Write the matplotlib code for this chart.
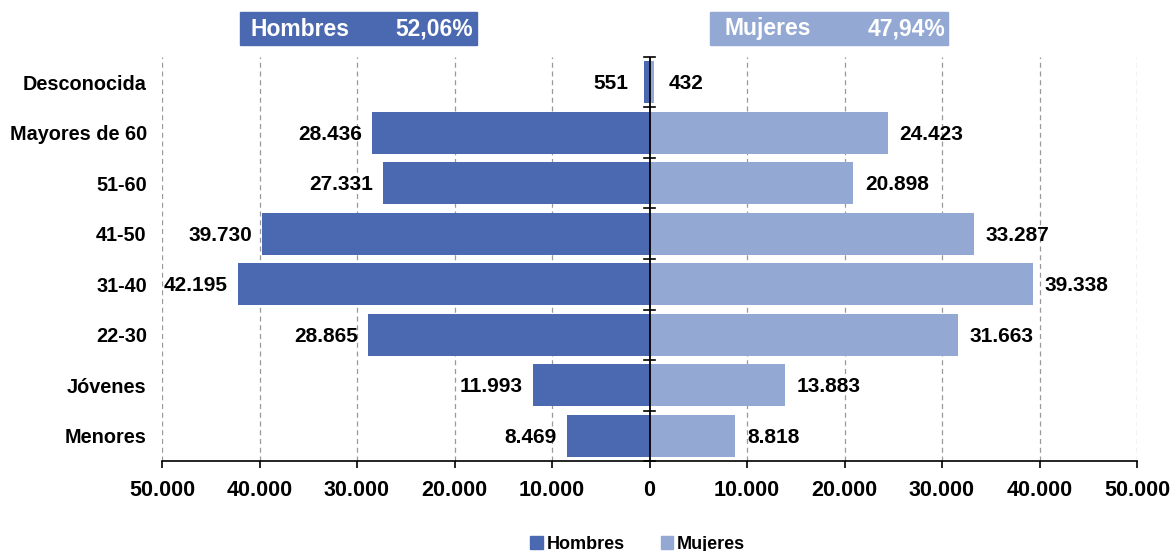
import matplotlib.pyplot as plt
from matplotlib.patches import Patch
import numpy as np

categorias = ['Desconocida', 'Mayores de 60', '51-60', '41-50', '31-40',
              '22-30', 'Jóvenes', 'Menores']
hombres = [551, 28436, 27331, 39730, 42195, 28865, 11993, 8469]
mujeres = [432, 24423, 20898, 33287, 39338, 31663, 13883, 8818]
pct_hombres = '52,06%'
pct_mujeres = '47,94%'
ticks = [-50000, -40000, -30000, -20000, -10000, 0, 10000, 20000, 30000, 40000, 50000]

c_h = '#4a69b0'
c_m = '#93a9d3'


def fmt(v):
    return f'{abs(int(v)):,}'.replace(',', '.')


plt.rcParams['font.family'] = ['Liberation Sans', 'DejaVu Sans']
plt.rcParams['font.weight'] = 'bold'

fig = plt.figure(figsize=(11.7, 5.51), dpi=100)
ax = fig.add_axes([0.1385, 0.1633, 0.8333, 0.7333])

y = np.arange(len(categorias))[::-1]
ax.barh(y, [-v for v in hombres], height=0.84, color=c_h, zorder=3)
ax.barh(y, mujeres, height=0.84, color=c_m, zorder=3)

for yi, h, m in zip(y, hombres, mujeres):
    dh = 1050 if h > 2000 else 1600
    dm = 1200 if m > 2000 else 1550
    ax.text(-h - dh, yi - 0.03, fmt(h), ha='right', va='center', fontsize=15,
            fontweight='bold')
    ax.text(m + dm, yi - 0.03, fmt(m), ha='left', va='center', fontsize=15,
            fontweight='bold')

ax.set_xlim(-50000, 50000)
ax.set_ylim(-0.5, len(categorias) - 0.5)
ax.set_xticks(ticks)
ax.set_xticklabels([fmt(t) for t in ticks], fontsize=15.5, fontweight='bold')
ax.set_yticks(y)
ax.set_yticklabels(categorias, fontsize=14.3, fontweight='bold')
ax.tick_params(axis='y', length=0, pad=11)
ax.tick_params(axis='x', direction='out', length=5, width=1.2, pad=9)

for t in ticks:
    if t != 0:
        ax.axvline(t, color='#999999', linestyle=(0, (4, 3)), linewidth=0.9, zorder=1)

for s in ['top', 'right', 'left']:
    ax.spines[s].set_visible(False)
ax.spines['bottom'].set_linewidth(1.2)

# eje central con marcas
ax.axvline(0, color='black', linewidth=1.3, zorder=4)
for b in np.arange(-0.5, len(categorias), 1.0):
    ax.plot([-600, 600], [b, b], color='black', linewidth=1.2, zorder=4,
            clip_on=False)

# cabeceras
fig.patches.append(plt.Rectangle((240 / 1170, 1 - 45 / 551), 237 / 1170, 33 / 551,
                                 transform=fig.transFigure, color=c_h))
fig.patches.append(plt.Rectangle((710 / 1170, 1 - 45 / 551), 238 / 1170, 33 / 551,
                                 transform=fig.transFigure, color=c_m))
hy = 1 - 29 / 551
fig.text(250 / 1170, hy, 'Hombres', color='white', fontsize=16.5, fontweight='bold',
         va='center', ha='left')
fig.text(473 / 1170, hy, pct_hombres, color='white', fontsize=16.5, fontweight='bold',
         va='center', ha='right')
fig.text(725 / 1170, hy, 'Mujeres', color='white', fontsize=16.5, fontweight='bold',
         va='center', ha='left')
fig.text(945 / 1170, hy, pct_mujeres, color='white', fontsize=16.5, fontweight='bold',
         va='center', ha='right')

handles = [Patch(color=c_h, label='Hombres'), Patch(color=c_m, label='Mujeres')]
fig.legend(handles=handles, loc='center', bbox_to_anchor=(0.545, 0.012), ncol=2,
           frameon=False, handlelength=0.7, handleheight=0.7,
           handletextpad=0.2, columnspacing=2.0, prop={'weight': 'bold', 'size': 13})

fig.savefig('out.png', dpi=100)
